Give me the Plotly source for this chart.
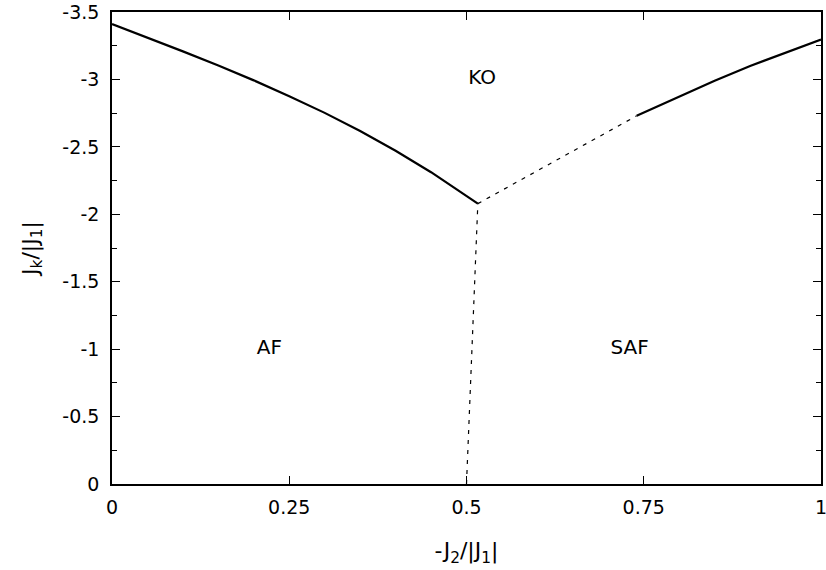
import plotly.graph_objects as go

# AF-KO boundary (solid)
af_ko_x = [0.0, 0.05, 0.10, 0.15, 0.20, 0.25, 0.30, 0.35, 0.40, 0.45, 0.50, 0.516]
af_ko_y = [-3.41, -3.31, -3.208, -3.103, -2.993, -2.876, -2.752, -2.617, -2.471, -2.312, -2.139, -2.079]

# SAF-KO boundary (dashed part, then solid part)
saf_ko_dash_x = [0.516, 0.740]
saf_ko_dash_y = [-2.079, -2.730]
saf_ko_x = [0.740, 0.80, 0.85, 0.90, 0.95, 1.0]
saf_ko_y = [-2.730, -2.875, -2.99, -3.10, -3.20, -3.295]

# AF-SAF boundary (dashed)
af_saf_x = [0.500, 0.516]
af_saf_y = [0.0, -2.079]

# Region labels
region_names = ["KO", "AF", "SAF"]
region_x = [0.522, 0.222, 0.730]
region_y = [-3.0, -1.0, -1.0]

x_ticks = [0, 0.25, 0.5, 0.75, 1]
x_tick_labels = ["0", "0.25", "0.5", "0.75", "1"]
y_ticks = [0, -0.5, -1, -1.5, -2, -2.5, -3, -3.5]
y_tick_labels = ["0", "-0.5", "-1", "-1.5", "-2", "-2.5", "-3", "-3.5"]

FONT = "DejaVu Sans, Liberation Sans, Arial, sans-serif"

fig = go.Figure()
fig.add_trace(go.Scatter(x=af_ko_x, y=af_ko_y, mode="lines",
                         line=dict(color="black", width=2.2), showlegend=False))
fig.add_trace(go.Scatter(x=saf_ko_x, y=saf_ko_y, mode="lines",
                         line=dict(color="black", width=2.2), showlegend=False))
fig.add_trace(go.Scatter(x=saf_ko_dash_x, y=saf_ko_dash_y, mode="lines",
                         line=dict(color="black", width=1.2, dash="4px,6px"), showlegend=False))
fig.add_trace(go.Scatter(x=af_saf_x, y=af_saf_y, mode="lines",
                         line=dict(color="black", width=1.2, dash="4px,6px"), showlegend=False))
fig.add_trace(go.Scatter(x=region_x, y=region_y, mode="text", text=region_names,
                         textfont=dict(family=FONT, size=20, color="black"),
                         textposition="middle center", showlegend=False))

axis_common = dict(
    showgrid=False, zeroline=False, showline=True, linecolor="black", linewidth=1.5,
    mirror="allticks", ticks="inside", ticklen=8, tickwidth=1, tickcolor="black",
    tickfont=dict(family=FONT, size=19, color="black"),
    ticklabeloverflow="allow",
)

fig.update_layout(
    width=826, height=570,
    margin=dict(l=112, r=5, t=12, b=86, autoexpand=False),
    paper_bgcolor="white", plot_bgcolor="white",
    xaxis=dict(range=[0, 1], tickvals=x_ticks, ticktext=x_tick_labels,
               ticklabelstandoff=5,
               title=dict(text="-J<sub>2</sub>/|J<sub>1</sub>|",
                          font=dict(family=FONT, size=22, color="black"), standoff=26),
               **axis_common),
    yaxis=dict(range=[0, -3.5], tickvals=y_ticks, ticktext=y_tick_labels,
               ticklabelstandoff=7,
               minor=dict(dtick=0.25, tick0=0, ticks="inside", ticklen=5, tickcolor="black", tickwidth=1),
               title=dict(text="J<sub>k</sub>/|J<sub>1</sub>|",
                          font=dict(family=FONT, size=22, color="black"), standoff=18),
               **axis_common),
)

fig.write_html("out.html", config={"displayModeBar": False},
               post_script="document.body.style.margin='0px';")
